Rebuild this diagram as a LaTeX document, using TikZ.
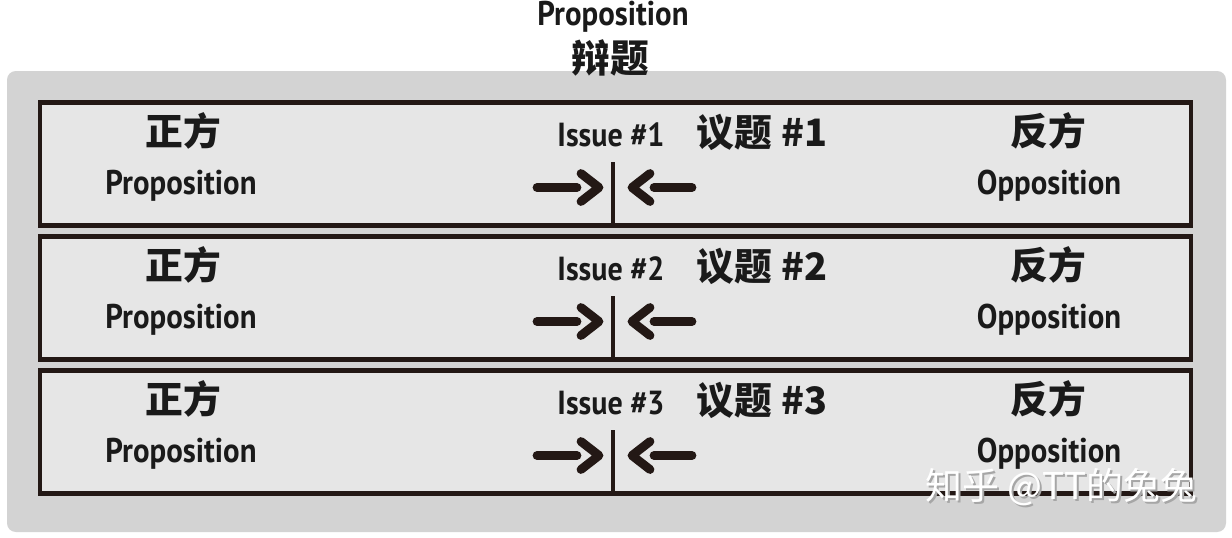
\documentclass[tikz,border=0pt]{standalone}
\usepackage{fontspec}
\newfontfamily\enfont{PT Sans}[FakeStretch=0.9]
\newfontfamily\cjk{Noto Sans CJK SC}
\definecolor{outergray}{HTML}{D3D3D3}
\definecolor{rowgray}{HTML}{E6E6E6}
\definecolor{inkdark}{HTML}{231815}
\definecolor{textdark}{HTML}{1A1A1A}
\tikzset{
  rowbox/.style={draw=inkdark, fill=rowgray, line width=2.8pt},
  zhlabel/.style={font=\cjk\bfseries\fontsize{21.5}{24}\selectfont, text=textdark, inner sep=0pt},
  enlabel/.style={font=\enfont\bfseries\fontsize{19.5}{22}\selectfont, text=textdark, inner sep=0pt, anchor=base},
  issuelabel/.style={font=\enfont\bfseries\fontsize{19}{22}\selectfont, text=textdark, inner sep=0pt, anchor=base},
  pushline/.style={draw=inkdark, line width=5pt, line cap=round, line join=round},
  midline/.style={draw=inkdark, line width=2.4pt},
  watermark/.style={font=\cjk\fontsize{21}{24}\selectfont, inner sep=0pt}
}
\begin{document}
\begin{tikzpicture}[x=0.02cm, y=-0.02cm]
    \useasboundingbox (0,0) rectangle (1232,538);
    % background panel
    \fill[outergray, rounded corners=5pt] (7,71) rectangle (1226,532);
    % title
    \node[enlabel] (title) at (613,25) {Proposition};
    \node[zhlabel, font=\cjk\bfseries\fontsize{22}{24}\selectfont] (motion) at (610,58) {辩题};
    % one row per issue
    \foreach \r [evaluate=\r as \t using {102.5+134*(\r-1)}] in {1,2,3} {
        \draw[rowbox] (40,\t) rectangle (1191,\t+123) coordinate (rowend\r);
        \node[zhlabel] (pro\r) at (183,\t+28) {正方};
        \node[enlabel] (proen\r) at (181,\t+91.5) {Proposition};
        \node[issuelabel] (issue\r) at (611,\t+43.5) {Issue \#\r};
        \node[zhlabel] (issuezh\r) at (762,\t+30) {议题 \#\r};
        \node[zhlabel] (opp\r) at (1048,\t+28) {反方};
        \node[enlabel] (oppen\r) at (1049,\t+91.5) {Opposition};
        \coordinate (clash\r) at (613,\t+59.5);
        \coordinate (floor\r) at (613,\t+123);
        \draw[midline] (clash\r) -- (floor\r);
        \begin{scope}[shift={(613,\t+85)}]
            \draw[pushline] (-76,0) -- (-36,0);
            \draw[pushline] (-32,-14) -- (-14,0) -- (-32,14);
            \draw[pushline] (37,-14) -- (19,0) -- (37,14);
            \draw[pushline] (41,0) -- (79,0);
        \end{scope}
    }
    % site mark
    \node[watermark, text=gray!70] (markshade) at (1063.5,489.5) {知乎 @TT的兔兔};
    \node[watermark, text=white] (mark) at (1061.5,487.5) {知乎 @TT的兔兔};
\end{tikzpicture}
\end{document}
